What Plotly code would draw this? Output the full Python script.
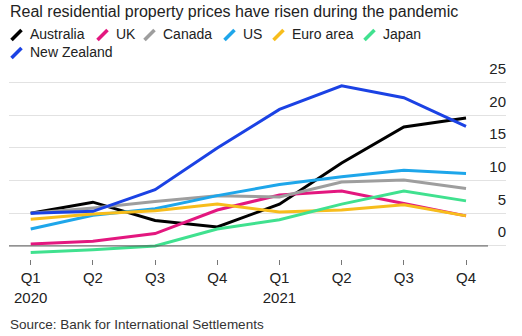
import plotly.graph_objects as go

# Real residential property prices, % change (year on year)
quarters = ["Q1 2020", "Q2 2020", "Q3 2020", "Q4 2020",
            "Q1 2021", "Q2 2021", "Q3 2021", "Q4 2021"]
tick_labels = ["Q1<br>2020", "Q2", "Q3", "Q4", "Q1<br>2021", "Q2", "Q3", "Q4"]

australia = [5.0, 6.7, 3.9, 2.9, 6.4, 12.7, 18.2, 19.6]
uk = [0.3, 0.7, 1.9, 5.5, 7.8, 8.4, 6.5, 4.6]
canada = [5.0, 5.8, 6.8, 7.7, 7.5, 9.8, 10.1, 8.8]
us = [2.6, 4.7, 5.7, 7.7, 9.4, 10.6, 11.6, 11.1]
euro_area = [4.1, 4.9, 5.4, 6.4, 5.2, 5.5, 6.3, 4.6]
japan = [-1.0, -0.6, 0.0, 2.6, 4.0, 6.4, 8.4, 6.9]
new_zealand = [5.0, 5.3, 8.6, 15.0, 20.9, 24.5, 22.7, 18.3]

y_ticks = [0, 5, 10, 15, 20, 25]

series = [
    ("Australia", australia, "#000000"),
    ("UK", uk, "#e3177f"),
    ("Canada", canada, "#9e9e9e"),
    ("US", us, "#1ea6ea"),
    ("Euro area", euro_area, "#f7bd1c"),
    ("Japan", japan, "#40e18f"),
    ("New Zealand", new_zealand, "#1b42e4"),
]

W, H = 522, 336
ML, MR, MT, MB = 9, 16, 58, 77
PW, PH = W - ML - MR, H - MT - MB
PX_PER_UNIT = 6.532  # vertical scale of the value axis


def px_x(p):
    return (p - ML) / PW


def px_y(p):
    return (H - MB - p) / PH


FONT = "Liberation Sans, Arial, sans-serif"
TEXT = "#222222"

fig = go.Figure()
xs = list(range(len(quarters)))
for name, vals, color in series:
    fig.add_trace(go.Scatter(
        x=xs, y=vals, mode="lines", name=name,
        line=dict(color=color, width=3),
        showlegend=False, hovertext=quarters,
    ))

# Legend: slanted swatch + label, laid out in two rows
legend_pos = [(10, 34.5), (96, 34.5), (143, 34.5), (223, 34.5),
              (272, 34.5), (363, 34.5), (10, 52.5)]
shapes = []
annotations = []
for (name, _, color), (sx, cy) in zip(series, legend_pos):
    shapes.append(dict(
        type="line", xref="paper", yref="paper",
        x0=px_x(sx + 1.5), y0=px_y(cy + 5.5),
        x1=px_x(sx + 11.5), y1=px_y(cy - 4.5),
        line=dict(color=color, width=3.5),
    ))
    annotations.append(dict(
        text=name, xref="paper", yref="paper",
        x=px_x(sx + 18), y=px_y(cy), xanchor="left", yanchor="middle",
        showarrow=False, font=dict(family=FONT, size=14, color=TEXT),
    ))

# Title and source
annotations.append(dict(
    text="Real residential property prices have risen during the pandemic",
    xref="paper", yref="paper", x=px_x(8), y=px_y(11),
    xanchor="left", yanchor="middle", showarrow=False,
    font=dict(family=FONT, size=16, color=TEXT),
))
annotations.append(dict(
    text="Source: Bank for International Settlements",
    xref="paper", yref="paper", x=px_x(8), y=px_y(324.5),
    xanchor="left", yanchor="middle", showarrow=False,
    font=dict(family=FONT, size=13.5, color="#333333"),
))

# Darker baseline at zero
shapes.append(dict(
    type="line", xref="paper", yref="y",
    x0=0, x1=px_x(488), y0=0, y1=0,
    line=dict(color="#555555", width=1),
))

fig.update_layout(
    width=W, height=H, autosize=False,
    margin=dict(l=ML, r=MR, t=MT, b=MB, pad=0),
    paper_bgcolor="white", plot_bgcolor="white",
    font=dict(family=FONT, color=TEXT),
    shapes=shapes, annotations=annotations,
    xaxis=dict(
        range=[-0.349, 7.643], tickvals=xs, ticktext=tick_labels,
        ticks="outside", ticklen=5, tickwidth=1, tickcolor="#777777",
        showgrid=False, zeroline=False, showline=False,
        tickfont=dict(family=FONT, size=15, color=TEXT),
    ),
    yaxis=dict(
        range=[-2, -2 + PH / PX_PER_UNIT], side="right",
        tickvals=y_ticks, ticklabelposition="inside",
        ticklabelshift=-14, ticklabelstandoff=-3,
        showgrid=True, gridcolor="#e2e2e2", gridwidth=1,
        zeroline=False, showline=False, ticks="",
        tickfont=dict(family=FONT, size=15, color=TEXT),
    ),
)

fig.write_html("out.html")
